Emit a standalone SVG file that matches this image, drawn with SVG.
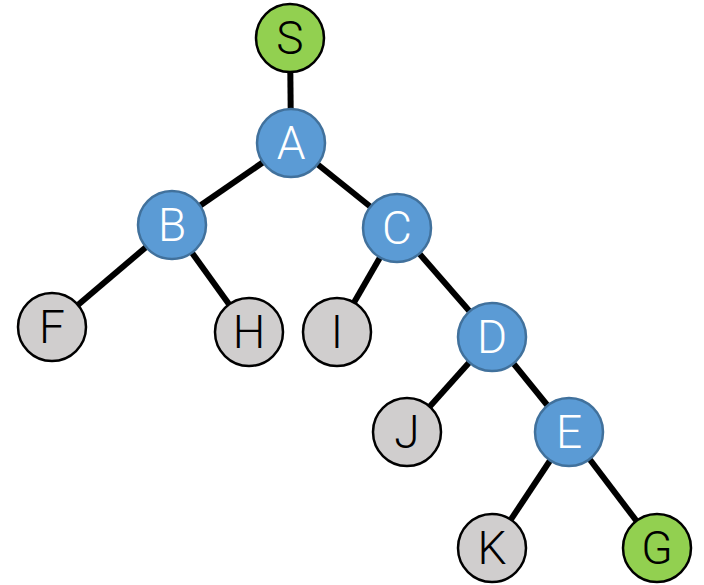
<svg xmlns="http://www.w3.org/2000/svg" width="704" height="585" viewBox="0 0 704 585">
  <style>
    .edge { stroke: #000; stroke-width: 6; }
    .blue { fill: #5B9BD5; stroke: #41719C; stroke-width: 2.5; }
    .green { fill: #92D050; stroke: #000; stroke-width: 2.5; }
    .gray { fill: #D0CECE; stroke: #000; stroke-width: 2.5; }
    text { font-family: Roboto, Lato, "Liberation Sans", sans-serif; font-weight: 300; font-size: 46px; text-anchor: middle; dominant-baseline: central; }
    .light { fill: #fff; }
    .dark { fill: #000; }
  </style>
  <rect width="704" height="585" fill="#fff"/>
  <g id="connectors">
    <line class="edge" x1="290" y1="38" x2="291" y2="143"/>
    <line class="edge" x1="291" y1="143" x2="172" y2="225"/>
    <line class="edge" x1="291" y1="143" x2="397" y2="228"/>
    <line class="edge" x1="172" y1="225" x2="52" y2="327"/>
    <line class="edge" x1="172" y1="225" x2="249" y2="332"/>
    <line class="edge" x1="397" y1="228" x2="337" y2="332"/>
    <line class="edge" x1="397" y1="228" x2="492" y2="337"/>
    <line class="edge" x1="492" y1="337" x2="407" y2="432"/>
    <line class="edge" x1="492" y1="337" x2="569" y2="432"/>
    <line class="edge" x1="569" y1="432" x2="492" y2="548"/>
    <line class="edge" x1="569" y1="432" x2="657" y2="548"/>
  </g>
  <g id="node-S"><circle class="green" cx="290" cy="38" r="34"/><text class="dark" x="290" y="38">S</text></g>
  <g id="node-A"><circle class="blue" cx="291" cy="143" r="34"/><text class="light" x="291" y="143">A</text></g>
  <g id="node-B"><circle class="blue" cx="172" cy="225" r="34"/><text class="light" x="172" y="225">B</text></g>
  <g id="node-C"><circle class="blue" cx="397" cy="228" r="34"/><text class="light" x="397" y="228">C</text></g>
  <g id="node-F"><circle class="gray" cx="52" cy="327" r="34"/><text class="dark" x="52" y="327">F</text></g>
  <g id="node-H"><circle class="gray" cx="249" cy="332" r="34"/><text class="dark" x="249" y="332">H</text></g>
  <g id="node-I"><circle class="gray" cx="337" cy="332" r="34"/><text class="dark" x="337" y="332">I</text></g>
  <g id="node-D"><circle class="blue" cx="492" cy="337" r="34"/><text class="light" x="492" y="337">D</text></g>
  <g id="node-J"><circle class="gray" cx="407" cy="432" r="34"/><text class="dark" x="407" y="432">J</text></g>
  <g id="node-E"><circle class="blue" cx="569" cy="432" r="34"/><text class="light" x="569" y="432">E</text></g>
  <g id="node-K"><circle class="gray" cx="492" cy="548" r="34"/><text class="dark" x="492" y="548">K</text></g>
  <g id="node-G"><circle class="green" cx="657" cy="548" r="34"/><text class="dark" x="657" y="548">G</text></g>
</svg>
